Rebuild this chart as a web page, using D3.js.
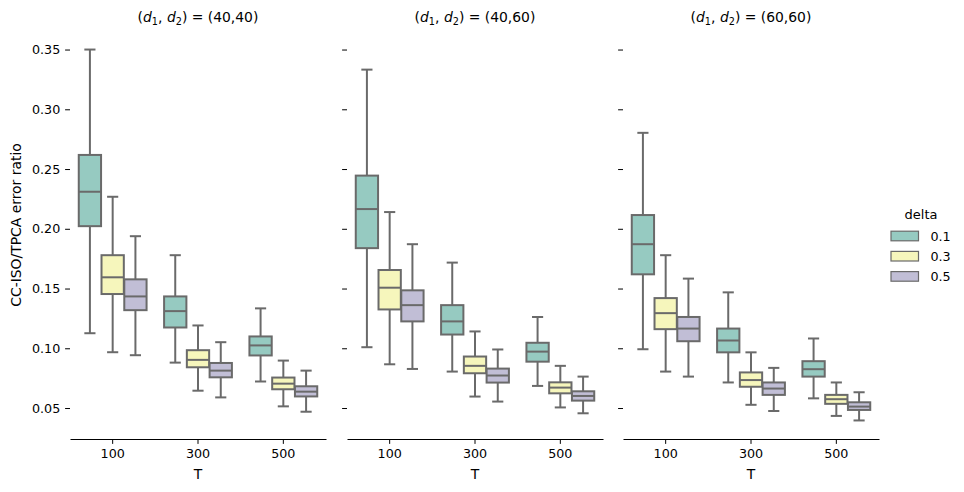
<!DOCTYPE html>
<html>
<head>
<meta charset="utf-8">
<script src="https://cdn.jsdelivr.net/npm/d3@7"></script>
<style>
  body { margin: 0; background: #fff; }
  svg text { font-family: "DejaVu Sans", sans-serif; fill: #000; }
</style>
</head>
<body>
<div id="canvas"></div>
<script>
// Data: [lower whisker, Q1, median, Q3, upper whisker] per T, per delta
var t_values = ["100", "300", "500"]
var deltas = ["0.1", "0.3", "0.5"]
var panel_dims = ["(40,40)", "(40,60)", "(60,60)"]
var y_ticks = [0.05, 0.10, 0.15, 0.20, 0.25, 0.30, 0.35]

var stats_40_40 = [
  [[0.1126, 0.2022, 0.2310, 0.2618, 0.3500], [0.0967, 0.1454, 0.1594, 0.1779, 0.2268], [0.0942, 0.1319, 0.1434, 0.1577, 0.1938]],
  [[0.0880, 0.1174, 0.1311, 0.1434, 0.1779], [0.0645, 0.0841, 0.0903, 0.0984, 0.1191], [0.0589, 0.0757, 0.0813, 0.0877, 0.1051]],
  [[0.0722, 0.0940, 0.1024, 0.1099, 0.1334], [0.0514, 0.0657, 0.0704, 0.0755, 0.0897], [0.0469, 0.0597, 0.0637, 0.0682, 0.0813]]
]
var stats_40_60 = [
  [[0.1009, 0.1838, 0.2165, 0.2445, 0.3332], [0.0866, 0.1325, 0.1507, 0.1655, 0.2140], [0.0827, 0.1225, 0.1361, 0.1485, 0.1871]],
  [[0.0805, 0.1115, 0.1225, 0.1361, 0.1717], [0.0596, 0.0791, 0.0853, 0.0931, 0.1141], [0.0554, 0.0713, 0.0772, 0.0830, 0.0990]],
  [[0.0685, 0.0888, 0.0972, 0.1046, 0.1262], [0.0505, 0.0623, 0.0671, 0.0715, 0.0853], [0.0456, 0.0562, 0.0601, 0.0640, 0.0763]]
]
var stats_60_60 = [
  [[0.0992, 0.1619, 0.1871, 0.2115, 0.2803], [0.0805, 0.1160, 0.1294, 0.1420, 0.1779], [0.0763, 0.1059, 0.1165, 0.1262, 0.1583]],
  [[0.0714, 0.0966, 0.1065, 0.1165, 0.1468], [0.0527, 0.0678, 0.0734, 0.0798, 0.0966], [0.0475, 0.0610, 0.0663, 0.0714, 0.0836]],
  [[0.0581, 0.0763, 0.0825, 0.0892, 0.1082], [0.0434, 0.0535, 0.0574, 0.0610, 0.0714], [0.0396, 0.0484, 0.0512, 0.0548, 0.0632]]
]
var panel_stats = [stats_40_40, stats_40_60, stats_60_60]

// Display variables
var total_width = 964, total_height = 492
var panel_left = [70, 347, 623], panel_width = 256
var plot_top = 31, plot_bottom = 439
var box_colours = ["#96cac1", "#f6f6bc", "#c1bed6"]
var line_colour = "#6a6a6a"
var label_size = "13.9px", tick_size = "12.7px"

var svg = d3.select("#canvas").append("svg").attr("width", total_width).attr("height", total_height)

// Shared y scale, padded 5% around the whisker extent
var all_vals = panel_stats.flat(3)
var y_min = d3.min(all_vals), y_max = d3.max(all_vals), pad = (y_max - y_min) * 0.05
var y = d3.scaleLinear().domain([y_min - pad, y_max + pad]).range([plot_bottom, plot_top])

panel_stats.forEach(function(stats, p) {
    var g = svg.append("g").attr("transform", "translate(" + panel_left[p] + ",0)")
    var x = d3.scaleBand().domain(t_values).range([0, panel_width])
    var hue = d3.scaleBand().domain(deltas).range([0, x.bandwidth() * 0.8])
    var box_w = hue.bandwidth() * 0.98

    // x axis
    var xa = g.append("g").attr("transform", "translate(0," + plot_bottom + ")")
        .call(d3.axisBottom(x).tickSize(4.9).tickPadding(4.9).tickSizeOuter(0))
    xa.select(".domain").attr("stroke", "#000").attr("stroke-width", 1)
    xa.selectAll(".tick line").attr("stroke", "#000").attr("stroke-width", 1)
    xa.selectAll(".tick text").style("font-size", tick_size).attr("font-family", "DejaVu Sans")
    g.append("text").attr("x", panel_width / 2).attr("y", 479).attr("text-anchor", "middle")
        .style("font-size", label_size).text("T")

    // y axis: ticks everywhere, labels only on the first panel, no spine
    var ya = g.append("g")
        .call(d3.axisLeft(y).tickValues(y_ticks).tickFormat(d3.format(".2f")).tickSize(4.9).tickPadding(4.9))
    ya.select(".domain").remove()
    ya.selectAll(".tick line").attr("stroke", "#000").attr("stroke-width", 1)
    ya.selectAll(".tick text").style("font-size", tick_size).attr("font-family", "DejaVu Sans")
    if (p > 0) ya.selectAll(".tick text").remove()

    // facet title with mathtext-like d_1, d_2
    var title = g.append("text").attr("x", panel_width / 2).attr("y", 21.5)
        .attr("text-anchor", "middle").style("font-size", label_size)
    title.append("tspan").text("(")
    title.append("tspan").attr("font-style", "italic").text("d")
    title.append("tspan").attr("dy", 3).style("font-size", "9.7px").text("1")
    title.append("tspan").attr("dy", -3).text(", ")
    title.append("tspan").attr("font-style", "italic").text("d")
    title.append("tspan").attr("dy", 3).style("font-size", "9.7px").text("2")
    title.append("tspan").attr("dy", -3).text(") = " + panel_dims[p])

    // boxes
    t_values.forEach(function(t, ti) {
        deltas.forEach(function(d, di) {
            var s = stats[ti][di]
            var cx = x(t) + x.bandwidth() * 0.1 + hue(d) + hue.bandwidth() / 2
            var bg = g.append("g")
            bg.append("line").attr("x1", cx).attr("x2", cx).attr("y1", y(s[0])).attr("y2", y(s[1]))
            bg.append("line").attr("x1", cx).attr("x2", cx).attr("y1", y(s[3])).attr("y2", y(s[4]))
            bg.append("line").attr("x1", cx - box_w / 4).attr("x2", cx + box_w / 4).attr("y1", y(s[0])).attr("y2", y(s[0]))
            bg.append("line").attr("x1", cx - box_w / 4).attr("x2", cx + box_w / 4).attr("y1", y(s[4])).attr("y2", y(s[4]))
            bg.append("rect").attr("x", cx - box_w / 2).attr("width", box_w)
                .attr("y", y(s[3])).attr("height", y(s[1]) - y(s[3]))
                .attr("fill", box_colours[di])
            bg.append("line").attr("x1", cx - box_w / 2).attr("x2", cx + box_w / 2).attr("y1", y(s[2])).attr("y2", y(s[2]))
            bg.selectAll("line, rect").attr("stroke", line_colour).attr("stroke-width", 2)
        })
    })
})

// y label
svg.append("text").attr("transform", "translate(21,225) rotate(-90)").attr("text-anchor", "middle")
    .style("font-size", label_size).text("CC-ISO/TPCA error ratio")

// legend
var legend = svg.append("g").attr("transform", "translate(891,0)")
legend.append("text").attr("x", 30).attr("y", 219).attr("text-anchor", "middle")
    .style("font-size", "13px").text("delta")
deltas.forEach(function(d, i) {
    var cy = 236 + i * 20.2
    legend.append("rect").attr("x", 0).attr("y", cy - 4.8).attr("width", 27.5).attr("height", 9.6)
        .attr("fill", box_colours[i]).attr("stroke", line_colour).attr("stroke-width", 1.2)
    legend.append("text").attr("x", 39.5).attr("y", cy + 4.6).style("font-size", tick_size).text(d)
})
</script>
</body>
</html>
